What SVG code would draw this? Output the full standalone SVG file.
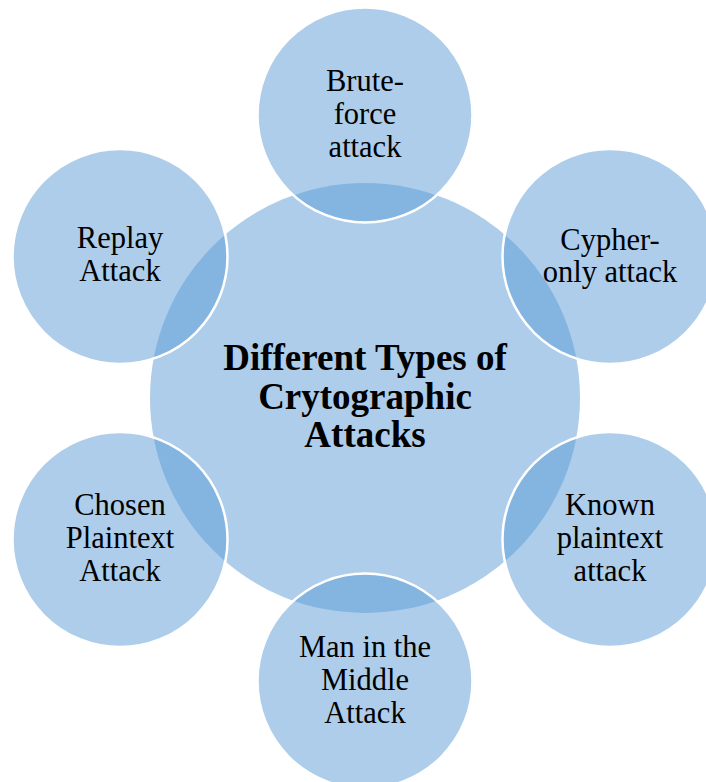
<svg xmlns="http://www.w3.org/2000/svg" width="706" height="782" viewBox="0 0 706 782">
<style>
.c{fill:#5B9BD5;fill-opacity:0.5}
.o{fill:#5B9BD5;fill-opacity:0.5;stroke:#ffffff;stroke-width:2.5}
.t{font-family:"Liberation Serif","Times New Roman",serif;font-size:30.5px;fill:#000;text-anchor:middle}
.h{font-family:"Liberation Serif","Times New Roman",serif;font-size:37px;font-weight:bold;fill:#000;text-anchor:middle}
</style>
<rect width="706" height="782" fill="#ffffff"/>
<g id="connectors"></g>
<g id="center">
<circle class="c" cx="365" cy="398" r="215"/>
<text class="h" x="365" y="370">Different Types of</text>
<text class="h" x="365" y="409">Crytographic</text>
<text class="h" x="365" y="447">Attacks</text>
</g>
<g id="brute-force">
<circle class="o" cx="365" cy="115" r="107.5"/>
<text class="t" x="365" y="91">Brute-</text>
<text class="t" x="365" y="124">force</text>
<text class="t" x="365" y="157">attack</text>
</g>
<g id="cypher-only">
<circle class="o" cx="610" cy="256.5" r="107.5"/>
<text class="t" x="610" y="250">Cypher-</text>
<text class="t" x="610" y="282">only attack</text>
</g>
<g id="known-plaintext">
<circle class="o" cx="610" cy="539.5" r="107.5"/>
<text class="t" x="610" y="515">Known</text>
<text class="t" x="610" y="548">plaintext</text>
<text class="t" x="610" y="581">attack</text>
</g>
<g id="mitm">
<circle class="o" cx="365" cy="681" r="107.5"/>
<text class="t" x="365" y="657">Man in the</text>
<text class="t" x="365" y="690">Middle</text>
<text class="t" x="365" y="723">Attack</text>
</g>
<g id="chosen-plaintext">
<circle class="o" cx="120" cy="539.5" r="107.5"/>
<text class="t" x="120" y="515">Chosen</text>
<text class="t" x="120" y="548">Plaintext</text>
<text class="t" x="120" y="581">Attack</text>
</g>
<g id="replay">
<circle class="o" cx="120" cy="256.5" r="107.5"/>
<text class="t" x="120" y="248">Replay</text>
<text class="t" x="120" y="281">Attack</text>
</g>
</svg>
